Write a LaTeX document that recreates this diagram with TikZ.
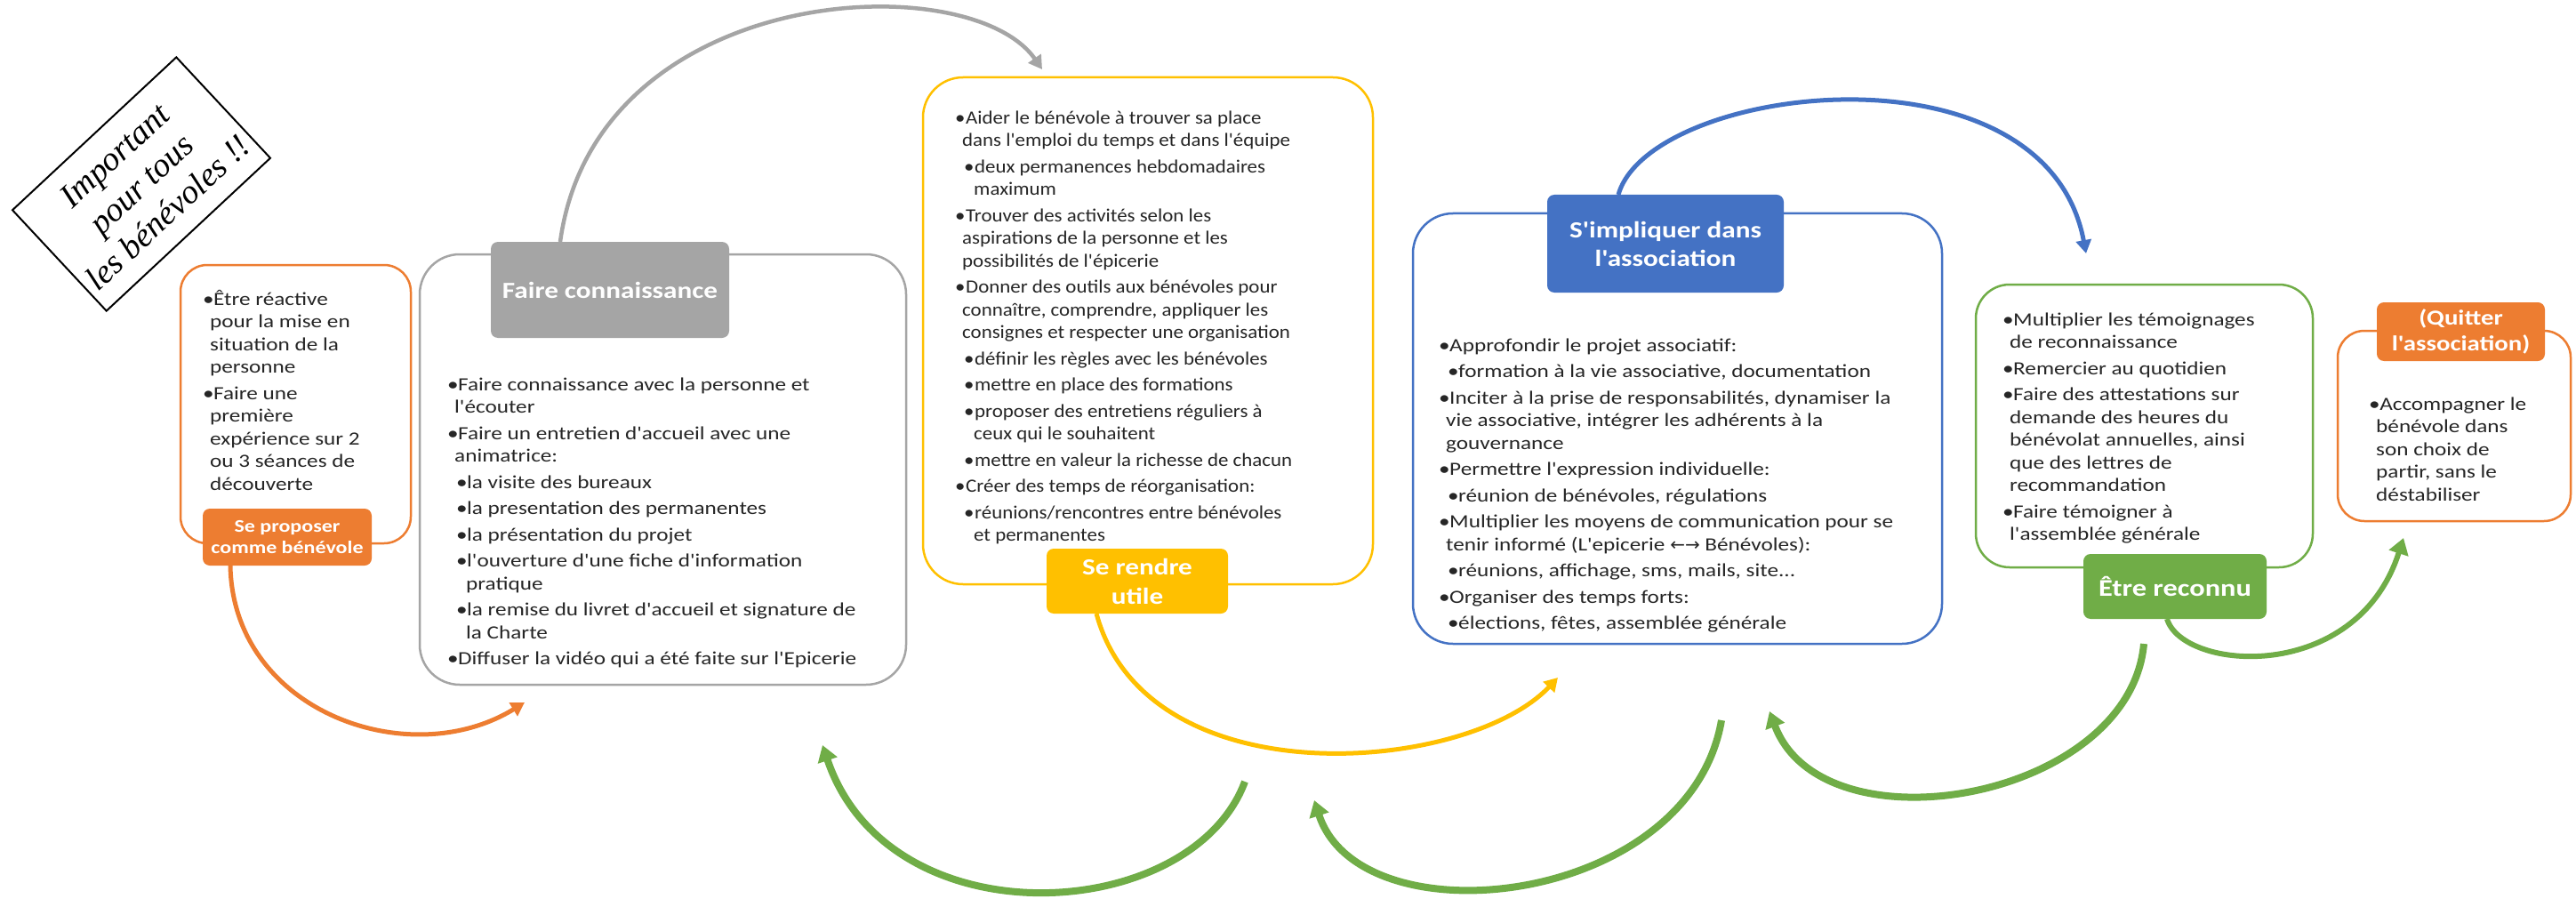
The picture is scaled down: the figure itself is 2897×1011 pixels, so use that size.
\documentclass[tikz,border=0pt]{standalone}
\usepackage{fontspec}
\newfontfamily\bodyfont[FakeStretch=1.2]{Carlito}
\newfontfamily\yfont[FakeStretch=1.09]{Carlito}
\newfontfamily\symfont{DejaVu Sans}
\newfontfamily\impfont{Liberation Serif}
\usetikzlibrary{arrows.meta}
\definecolor{cOr}{HTML}{ED7D31}
\definecolor{cGy}{HTML}{A5A5A5}
\definecolor{cYe}{HTML}{FFC000}
\definecolor{cBl}{HTML}{4472C4}
\definecolor{cGr}{HTML}{70AD47}
\definecolor{cTx}{HTML}{262626}
\newcommand\FS{\rule{0pt}{18pt}}
\newcommand\MB{\makebox[12pt][l]{\textbullet}}
\newcommand\MC{\hspace*{8pt}}
\newcommand\SB{\hspace*{10pt}\makebox[12pt][l]{\textbullet}}
\newcommand\SC{\hspace*{21pt}}
\tikzset{
  frm/.style={draw=#1, fill=white, line width=2.5pt, inner sep=0pt},
  lab/.style={fill=#1, rounded corners=8pt, inner sep=0pt, text=white, align=center,
    font=\bodyfont\bfseries\fontsize{26}{31}\selectfont},
  body/.style={anchor=north west, inner sep=0pt, align=left, text=cTx,
    font=\bodyfont\fontsize{21}{25.5}\selectfont},
  arr/.style={draw=#1, line width=5pt, -{Triangle[length=15pt,width=17pt]}},
  garr/.style={draw=cGr, line width=8pt, -{Triangle[length=18pt,width=22pt]}}
}
\begin{document}
\begin{tikzpicture}[x=1pt,y=-1pt]
\path[use as bounding box, fill=white] (0,0) rectangle (2897,1011);

% rotated note
\node[draw, line width=2pt, fill=white, rotate=43, minimum width=252pt, minimum height=155pt,
  align=center, inner sep=0pt, font=\impfont\itshape\fontsize{38}{44}\selectfont] (imp)
  at (159,207) {Important\\pour tous\\les bénévoles !!};

% frames
\node[frm=cOr, rounded corners=30pt, minimum width=259pt, minimum height=313pt] (boxO) at (332.5,454.5) {};
\node[frm=cGy, rounded corners=45pt, minimum width=547pt, minimum height=484pt] (boxG) at (745.5,528) {};
\node[frm=cYe, rounded corners=45pt, minimum width=506pt, minimum height=570pt] (boxY) at (1291,372) {};
\node[frm=cBl, rounded corners=45pt, minimum width=595pt, minimum height=484pt] (boxB) at (1886.5,482) {};
\node[frm=cGr, rounded corners=38pt, minimum width=379pt, minimum height=318pt] (boxE) at (2411.5,479) {};
\node[frm=cOr, rounded corners=30pt, minimum width=262pt, minimum height=214pt] (boxQ) at (2760,479) {};

% labels
\node[lab=cOr, minimum width=190pt, minimum height=64pt, font=\bodyfont\bfseries\fontsize{20}{24}\selectfont]
  (labO) at (323,604) {Se proposer\\comme bénévole};
\node[lab=cGy, minimum width=268pt, minimum height=108pt] (labG) at (686,326) {Faire connaissance};
\node[lab=cYe, minimum width=204pt, minimum height=73pt, font=\bodyfont\bfseries\fontsize{26}{33}\selectfont]
  (labY) at (1279,653.5) {Se rendre\\utile};
\node[lab=cBl, minimum width=266pt, minimum height=110pt, font=\bodyfont\bfseries\fontsize{26}{32}\selectfont]
  (labB) at (1873,274) {S'impliquer dans\\l'association};
\node[lab=cGr, minimum width=206pt, minimum height=73pt, font=\bodyfont\bfseries\fontsize{27}{32}\selectfont]
  (labE) at (2446,659.5) {Être reconnu};
\node[lab=cOr, minimum width=189pt, minimum height=66pt, font=\bodyfont\bfseries\fontsize{24}{29}\selectfont]
  (labQ) at (2767.5,373) {(Quitter\\l'association)};

% body texts
\node[body] (txO) at (228,325) {\FS\MB Être réactive\\
\MC pour la mise en\\
\MC situation de la\\
\MC personne\\[4pt]
\MB Faire une\\
\MC première\\
\MC expérience sur 2\\
\MC ou 3 séances de\\
\MC découverte};

\node[body] (txG) at (503,421) {\FS\MB Faire connaissance avec la personne et\\
\MC l'écouter\\[4pt]
\MB Faire un entretien d'accueil avec une\\
\MC animatrice:\\[4pt]
\SB la visite des bureaux\\[4pt]
\SB la presentation des permanentes\\[4pt]
\SB la présentation du projet\\[4pt]
\SB l'ouverture d'une fiche d'information\\
\SC pratique\\[4pt]
\SB la remise du livret d'accueil et signature de\\
\SC la Charte\\[4pt]
\MB Diffuser la vidéo qui a été faite sur l'Epicerie};

\node[body, font=\yfont\fontsize{21}{25.5}\selectfont] (txY) at (1074,121) {\FS\MB Aider le bénévole à trouver sa place\\
\MC dans l'emploi du temps et dans l'équipe\\[4pt]
\SB deux permanences hebdomadaires\\
\SC maximum\\[4pt]
\MB Trouver des activités selon les\\
\MC aspirations de la personne et les\\
\MC possibilités de l'épicerie\\[4pt]
\MB Donner des outils aux bénévoles pour\\
\MC connaître, comprendre, appliquer les\\
\MC consignes et respecter une organisation\\[4pt]
\SB définir les règles avec les bénévoles\\[4pt]
\SB mettre en place des formations\\[4pt]
\SB proposer des entretiens réguliers à\\
\SC ceux qui le souhaitent\\[4pt]
\SB mettre en valeur la richesse de chacun\\[4pt]
\MB Créer des temps de réorganisation:\\[4pt]
\SB réunions/rencontres entre bénévoles\\
\SC et permanentes};

\node[body] (txB) at (1618,377) {\FS\MB Approfondir le projet associatif:\\[4pt]
\SB formation à la vie associative, documentation\\[4pt]
\MB Inciter à la prise de responsabilités, dynamiser la\\
\MC vie associative, intégrer les adhérents à la\\
\MC gouvernance\\[4pt]
\MB Permettre l'expression individuelle:\\[4pt]
\SB réunion de bénévoles, régulations\\[4pt]
\MB Multiplier les moyens de communication pour se\\
\MC tenir informé (L'epicerie {\symfont\fontsize{20}{20}\selectfont ←→} Bénévoles):\\[4pt]
\SB réunions, affichage, sms, mails, site...\\[4pt]
\MB Organiser des temps forts:\\[4pt]
\SB élections, fêtes, assemblée générale};

\node[body] (txE) at (2252,348) {\FS\MB Multiplier les témoignages\\
\MC de reconnaissance\\[4pt]
\MB Remercier au quotidien\\[4pt]
\MB Faire des attestations sur\\
\MC demande des heures du\\
\MC bénévolat annuelles, ainsi\\
\MC que des lettres de\\
\MC recommandation\\[4pt]
\MB Faire témoigner à\\
\MC l'assemblée générale};

\node[body] (txQ) at (2664,443) {\FS\MB Accompagner le\\
\MC bénévole dans\\
\MC son choix de\\
\MC partir, sans le\\
\MC déstabiliser};

% arrow end points
\coordinate (gS) at (630,272);
\coordinate (gE) at (1172,78);
\coordinate (oS) at (259,636);
\coordinate (oE) at (590,790);
\coordinate (yS) at (1233,690);
\coordinate (yE) at (1752,762);
\coordinate (bS) at (1820,219);
\coordinate (bE) at (2346,285);
\coordinate (eS) at (2437,696);
\coordinate (eE) at (2703,605);
\coordinate (g2S) at (2411,724);
\coordinate (g2E) at (1990,800);
\coordinate (g3S) at (1936,810);
\coordinate (g3E) at (1478,900);
\coordinate (g4S) at (1400,879);
\coordinate (g4E) at (925,838);

% arrows
\draw[arr=cGy, line width=4.5pt] (gS) .. controls (670,-20) and (1090,-40) .. (gE);
\draw[arr=cOr] (oS) .. controls (262,800) and (460,870) .. (oE);
\draw[arr=cYe] (yS) .. controls (1290,900) and (1650,870) .. (yE);
\draw[arr=cBl] (bS) .. controls (1855,95) and (2300,40) .. (bE);
\draw[garr, line width=6pt] (eS) .. controls (2455,755) and (2650,770) .. (eE);
\draw[garr] (g2S) .. controls (2395,900) and (2050,960) .. (g2E);
\draw[garr] (g3S) .. controls (1900,1020) and (1530,1060) .. (g3E);
\draw[garr] (g4S) .. controls (1340,1040) and (1000,1060) .. (g4E);
\end{tikzpicture}
\end{document}
